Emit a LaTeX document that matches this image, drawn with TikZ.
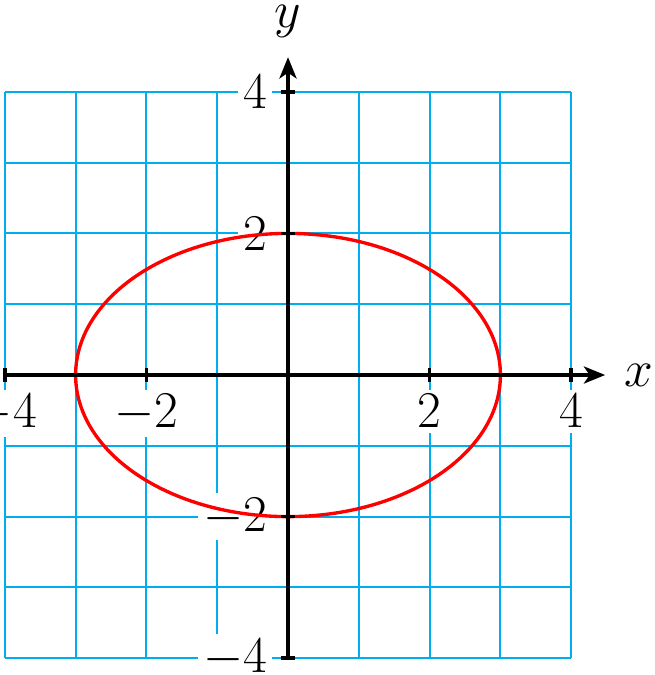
\documentclass[tikz,border=0pt]{standalone}
\usetikzlibrary{arrows.meta}
\definecolor{gridcyan}{RGB}{0,174,239}
\tikzset{
  gridline/.style={gridcyan, line width=0.8pt},
  axisline/.style={black, line width=1.6pt, -{Stealth[length=0.3cm,width=0.24cm,inset=0.08cm]}},
  tickline/.style={black, line width=1.4pt},
  ticklab/.style={fill=white, inner sep=2pt, font=\huge},
  curve/.style={red, line width=1.35pt},
  axlab/.style={font=\huge, inner sep=0pt}
}
\begin{document}
\begin{tikzpicture}
\useasboundingbox (-4.068,-4.237) rectangle (5.17,5.297);
\draw[gridline] (-4,-4) grid (4,4);
% x tick labels
\node[ticklab, anchor=north] (xm4) at (-4,-0.2) {$-4$};
\node[ticklab, anchor=north] (xm2) at (-2,-0.2) {$-2$};
\node[ticklab, anchor=north] (xp2) at (2,-0.2) {$2$};
\node[ticklab, anchor=north] (xp4) at (4,-0.2) {$4$};
% y tick labels
\node[ticklab, anchor=east] (yp4) at (-0.22,4) {$4$};
\node[ticklab, anchor=east] (yp2) at (-0.22,2) {$2$};
\node[ticklab, anchor=east] (ym2) at (-0.22,-2) {$-2$};
\node[ticklab, anchor=east] (ym4) at (-0.22,-4) {$-4$};
% ellipse
\draw[curve] (0,0) ellipse [x radius=3, y radius=2];
% axes
\coordinate (xs) at (-4,0);
\coordinate (xe) at (4.48,0);
\coordinate (ys) at (0,-4);
\coordinate (ye) at (0,4.49);
\draw[axisline] (xs) -- (xe);
\draw[axisline] (ys) -- (ye);
\foreach \v in {-4,-2,2,4}{
  \draw[tickline] (\v,-0.1) -- (\v,0.1);
  \draw[tickline] (-0.1,\v) -- (0.1,\v);
}
\node[axlab] (xl) at (4.96,0) {$x$};
\node[axlab] (yl) at (0,4.99) {$y$};
\end{tikzpicture}
\end{document}
